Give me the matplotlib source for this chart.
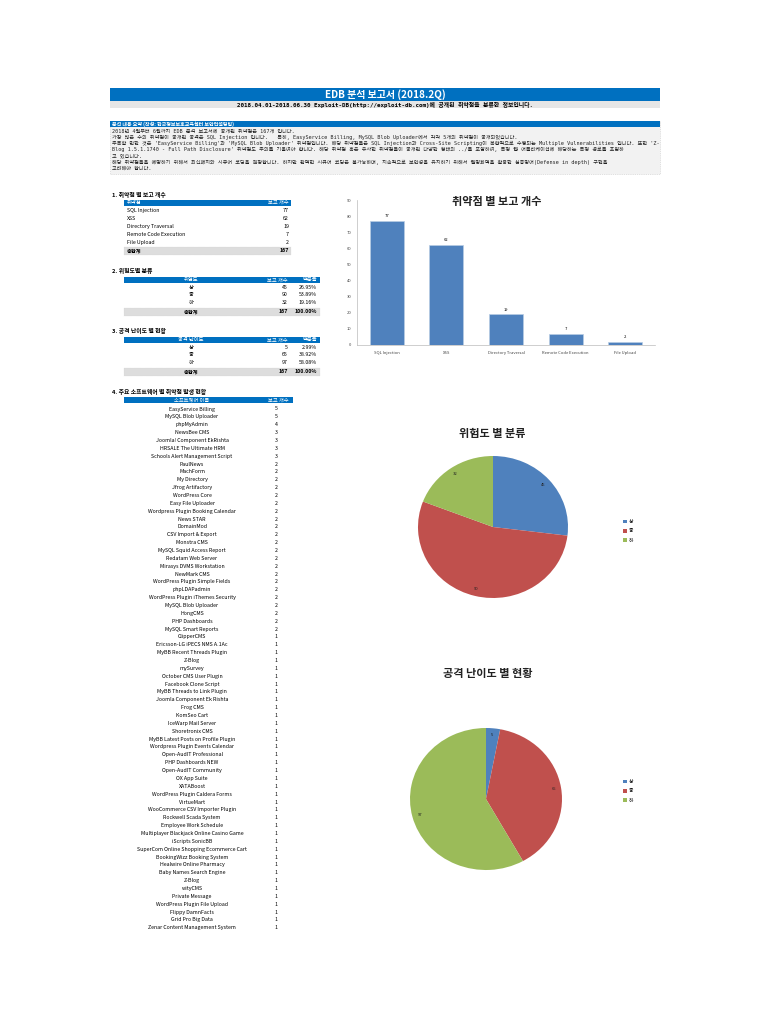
import numpy as np
import matplotlib.pyplot as plt
from matplotlib.patches import Rectangle

plt.rcParams['font.family'] = ['Noto Sans CJK KR', 'DejaVu Sans']

W, H = 770, 1024
BLUE = '#0070C0'
PIE_COLORS = ['#4F81BD', '#C0504D', '#9BBB59']
MONO = ['DejaVu Sans Mono', 'Noto Sans CJK KR']

# ---- data ----
title = "EDB 분석 보고서 (2018.2Q)"
subtitle = "2018.04.01-2018.06.30 Exploit-DB(http://exploit-db.com)에 공개된 취약점을 분류한 정보입니다."
summary_head = "분석 내용 요약 (작성: 한국정보보호교육센터 보안컨설팅팀)"
summary_lines = [
    "2018년 4월부터 6월까지 EDB 분석 보고서에 공개된 취약점은 167개 입니다.",
    "가장 많은 수의 취약점이 공개된 공격은 SQL Injection 입니다.   특히, EasyService Billing, MySQL Blob Uploader에서 각각 5개의 취약점이 공개되었습니다.",
    "주목할 만한 것은 'EasyService Billing'과 'MySQL Blob Uploader' 취약점입니다. 해당 취약점들은 SQL Injection과 Cross-Site Scripting이 복합적으로 수행되는 Multiple Vulnerabilities 입니다. 또한 'Z-",
    "Blog 1.5.1.1740 - Full Path Disclosure' 취약점도 주의를 기울여야 합니다. 해당 취약점 혹은 유사한 취약점들이 공개된 다양한 형태의 ../를 포함하여, 특정 웹 어플리케이션에 해당하는 특정 경로를 포함하",
    "고 있습니다.",
    "해당 취약점들을 예방하기 위해서 최신패치와 시큐어 코딩을 권장합니다. 하지만 완벽한 시큐어 코딩은 불가능하며, 지속적으로 보안성을 유지하기 위해서 웹방화벽을 활용한 심층방어(Defense in depth) 구현을",
    "고려해야 합니다.",
]

vuln_types = ["SQL Injection", "XSS", "Directory Traversal", "Remote Code Execution", "File Upload"]
vuln_counts = [77, 62, 19, 7, 2]

levels = ["상", "중", "하"]
risk_counts = [45, 90, 32]
diff_counts = [5, 65, 97]

software = [
    "EasyService Billing", "MySQL Blob Uploader", "phpMyAdmin", "NewsBee CMS",
    "Joomla! Component EkRishta", "HRSALE The Ultimate HRM", "Schools Alert Management Script",
    "PaulNews", "MachForm", "My Directory", "Jfrog Artifactory", "WordPress Core",
    "Easy File Uploader", "Wordpress Plugin Booking Calendar", "News STAR", "DomainMod",
    "CSV Import & Export", "Monstra CMS", "MySQL Squid Access Report", "Redatam Web Server",
    "Mirasys DVMS Workstation", "NewMark CMS", "WordPress Plugin Simple Fields", "phpLDAPadmin",
    "WordPress Plugin iThemes Security", "MySQL Blob Uploader", "HongCMS", "PHP Dashboards",
    "MySQL Smart Reports", "ClipperCMS", "Ericsson-LG iPECS NMS A.1Ac", "MyBB Recent Threads Plugin",
    "Z-Blog", "mySurvey", "October CMS User Plugin", "Facebook Clone Script",
    "MyBB Threads to Link Plugin", "Joomla Component Ek Rishta", "Frog CMS", "KomSeo Cart",
    "IceWarp Mail Server", "Shoretronix CMS", "MyBB Latest Posts on Profile Plugin",
    "Wordpress Plugin Events Calendar", "Open-AudIT Professional", "PHP Dashboards NEW",
    "Open-AudIT Community", "OX App Suite", "XATABoost", "WordPress Plugin Caldera Forms",
    "VirtueMart", "WooCommerce CSV Importer Plugin", "Rockwell Scada System",
    "Employee Work Schedule", "Multiplayer Blackjack Online Casino Game", "iScripts SonicBB",
    "SuperCom Online Shopping Ecommerce Cart", "BookingWizz Booking System",
    "Healwire Online Pharmacy", "Baby Names Search Engine", "Z-Blog", "wityCMS",
    "Private Message", "WordPress Plugin File Upload", "Flippy DamnFacts", "Grid Pro Big Data",
    "Zenar Content Management System",
]
software_counts = [5, 5, 4, 3, 3, 3, 3] + [2] * 22 + [1] * 38

# ---- page ----
fig = plt.figure(figsize=(7.7, 10.24), dpi=100)
bg = fig.add_axes([0, 0, 1, 1])
bg.set_xlim(0, W)
bg.set_ylim(H, 0)
bg.axis('off')

FS = 3.8  # table text size

# title bar
bg.add_patch(Rectangle((110, 88), 550, 13, fc=BLUE, ec='none'))
bg.text(385, 94.5, title, color='white', fontsize=7.2, fontweight='bold', ha='center', va='center')
bg.add_patch(Rectangle((110, 101), 550, 7, fc='#E6E6E6', ec='none'))
bg.text(385, 104.5, subtitle, fontsize=4.2, fontweight='bold', ha='center', va='center', family=MONO)

# summary box
bg.add_patch(Rectangle((110, 121), 550, 53, fc='#F2F2F2', ec='#C8C8C8', lw=0.5, ls=':'))
bg.add_patch(Rectangle((110, 121), 550, 6, fc=BLUE, ec='none'))
bg.text(112, 124, summary_head, color='white', fontsize=3.6, fontweight='bold', va='center')
for i, line in enumerate(summary_lines):
    bg.text(112, 131 + 6.2 * i, line, fontsize=3.7, va='center', color='#222222', family=MONO)


def section(y, text):
    bg.text(112, y, text, fontsize=4.2, fontweight='bold', va='center')


def header(y, x0, w):
    bg.add_patch(Rectangle((x0, y), w, 6, fc=BLUE, ec='none'))


def total_row(y, x0, w):
    bg.add_patch(Rectangle((x0, y - 4), w, 8, fc='#DDDDDD', ec='#C8C8C8', lw=0.3, ls=':'))


# table 1
section(195.5, "1. 취약점 별 보고 개수")
header(199.5, 124, 167)
bg.text(127, 202.5, "취약점", color='white', fontsize=FS, va='center')
bg.text(289, 202.5, "보고 개수", color='white', fontsize=FS, va='center', ha='right')
for i, (name, c) in enumerate(zip(vuln_types, vuln_counts)):
    y = 210.7 + 8 * i
    bg.text(127, y, name, fontsize=FS, va='center')
    bg.text(289, y, str(c), fontsize=FS, va='center', ha='right')
total_row(250.7, 124, 167)
bg.text(127, 250.7, "총합계", fontsize=FS, va='center', fontweight='bold')
bg.text(289, 250.7, str(sum(vuln_counts)), fontsize=FS, va='center', ha='right', fontweight='bold')


def level_table(y0, title_text, first_col, counts):
    section(y0 - 6, title_text)
    header(y0, 124, 196)
    bg.text(191, y0 + 3, first_col, color='white', fontsize=FS, va='center', ha='center')
    bg.text(288, y0 + 3, "보고 개수", color='white', fontsize=FS, va='center', ha='right')
    bg.text(317, y0 + 3, "백분율", color='white', fontsize=FS, va='center', ha='right')
    tot = sum(counts)
    for i, (lv, c) in enumerate(zip(levels, counts)):
        y = y0 + 10.5 + 7.8 * i
        bg.text(191, y, lv, fontsize=FS, va='center', ha='center')
        bg.text(288, y, str(c), fontsize=FS, va='center', ha='right')
        bg.text(317, y, f"{c / tot * 100:.2f}%", fontsize=FS, va='center', ha='right')
    yt = y0 + 35
    total_row(yt, 124, 196)
    bg.text(191, yt, "총합계", fontsize=FS, va='center', ha='center', fontweight='bold')
    bg.text(288, yt, str(tot), fontsize=FS, va='center', ha='right', fontweight='bold')
    bg.text(317, yt, "100.00%", fontsize=FS, va='center', ha='right', fontweight='bold')


level_table(276.7, "2. 위험도별 분류", "위험도", risk_counts)
level_table(336.7, "3. 공격 난이도 별 현황", "공격 난이도", diff_counts)

# table 4
section(391.7, "4. 주요 소프트웨어 별 취약점 발생 현황")
header(397.3, 124, 169)
bg.text(192, 400.3, "소프트웨어 이름", color='white', fontsize=FS, va='center', ha='center')
bg.text(289, 400.3, "보고 개수", color='white', fontsize=FS, va='center', ha='right')
for i, (name, c) in enumerate(zip(software, software_counts)):
    y = 409 + 7.86 * i
    bg.text(192, y, name, fontsize=FS, va='center', ha='center')
    bg.text(276, y, str(c), fontsize=FS, va='center', ha='center')


def frac(x0, y0, w, h):
    return [x0 / W, 1 - (y0 + h) / H, w / W, h / H]


# ---- bar chart ----
ax = fig.add_axes(frac(357, 200, 298, 145))
ax.set_facecolor('none')
xs = np.arange(len(vuln_types))
bars = ax.bar(xs, vuln_counts, width=0.57, color='#4F81BD', edgecolor='#B8CCE4', linewidth=0.5)
ax.bar_label(bars, fontsize=3, padding=2)
ax.set_xlim(-0.5, len(vuln_types) - 0.5)
ax.set_ylim(0, 90)
ax.set_yticks(range(0, 91, 10))
ax.set_xticks(xs)
ax.set_xticklabels(vuln_types)
ax.tick_params(axis='both', labelsize=3, length=0, pad=4, colors='#444444')
for s in ['top', 'right']:
    ax.spines[s].set_visible(False)
ax.spines['left'].set_color('#BBBBBB')
ax.spines['bottom'].set_color('#BBBBBB')
ax.spines['left'].set_linewidth(0.5)
ax.spines['bottom'].set_linewidth(0.5)
bg.text(497, 202, "취약점 별 보고 개수", fontsize=8, fontweight='bold', ha='center', va='center', color='#222222')


# ---- pies ----
def pie(box, counts, title_text, title_xy, legend_y):
    pax = fig.add_axes(frac(*box))
    wedges, _, autotexts = pax.pie(
        counts, colors=PIE_COLORS, startangle=90, counterclock=False,
        autopct=lambda p: f"{round(p * sum(counts) / 100)}", pctdistance=0.9,
        wedgeprops=dict(linewidth=0), textprops=dict(fontsize=3, color='#222222'))
    pax.set_aspect('auto')
    pax.set_xlim(-1, 1)
    pax.set_ylim(-1, 1)
    bg.text(title_xy[0], title_xy[1], title_text, fontsize=8, fontweight='bold',
            ha='center', va='center', color='#222222')
    pax.legend(wedges, levels, loc='center left', bbox_to_anchor=(619 / W, 1 - legend_y / H),
               bbox_transform=fig.transFigure, frameon=False, fontsize=3.5,
               handlelength=0.7, handleheight=0.7, handletextpad=0.4, labelspacing=0.9)


pie((418, 456, 150, 142), risk_counts, "위험도 별 분류", (492, 433), 531)
pie((410, 728, 152, 142), diff_counts, "공격 난이도 별 현황", (488, 674), 791)

fig.savefig("out.png", dpi=100)
